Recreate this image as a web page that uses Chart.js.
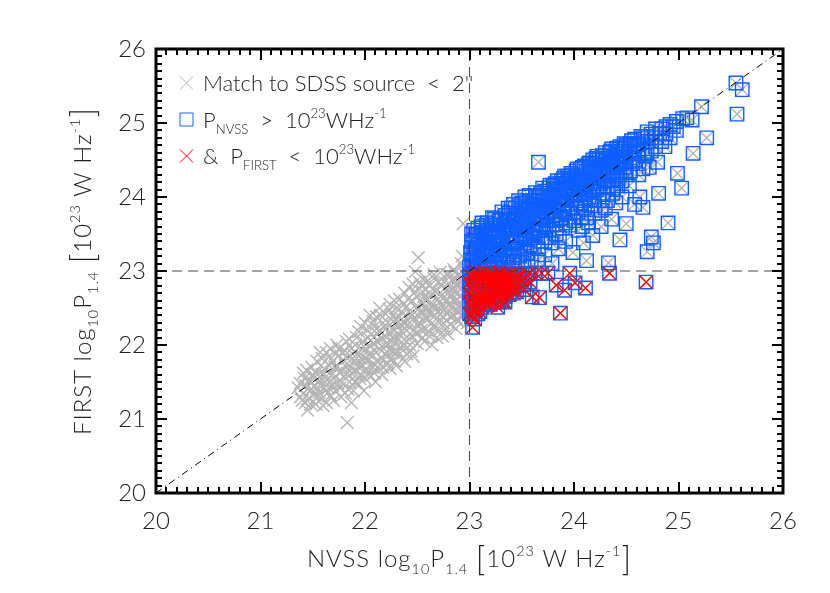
<!DOCTYPE html>
<html>
<head>
<meta charset="utf-8">
<script src="https://cdn.jsdelivr.net/npm/chart.js@4.4.1/dist/chart.umd.min.js"></script>
<style>
  html, body { margin: 0; padding: 0; background: #fff; }
</style>
</head>
<body>
<canvas id="chart" width="830" height="593"></canvas>
<script>
// axis ticks (log10 P in W/Hz)
const xTicks = [20, 21, 22, 23, 24, 25, 26];
const yTicks = [20, 21, 22, 23, 24, 25, 26];
const cut = 23;

// matched sources with NVSS power below the cut (grey only)
const lowPts = [
  [21.36,21.42],[21.40,21.25],[21.42,21.55],[21.45,21.12],[21.47,21.38],[21.50,21.60],[21.48,21.20],[21.52,21.45],[21.55,21.30],[21.44,21.66],
  [21.58,21.72],[21.60,21.18],[21.62,21.50],[21.64,21.35],[21.66,21.85],[21.68,21.60],[21.70,21.25],[21.57,21.90],[21.65,21.42],[21.71,21.70],
  [21.74,21.48],[21.75,21.95],[21.77,21.30],[21.79,21.80],[21.80,21.58],[21.82,22.05],[21.84,21.40],[21.86,21.70],[21.88,21.88],[21.90,21.50],
  [21.83,20.95],[21.78,21.65],[21.87,21.22],
  [21.92,22.10],[21.93,21.75],[21.95,21.55],[21.97,21.95],[21.99,21.38],[22.00,21.82],[22.02,22.20],[22.03,21.62],[22.05,21.98],[22.07,21.70],
  [22.08,22.32],[22.10,21.50],[21.96,22.25],[22.04,21.88],
  [22.12,22.05],[22.13,21.78],[22.15,22.40],[22.16,21.60],[22.18,21.95],[22.20,22.22],[22.21,21.85],[22.23,22.48],[22.24,21.68],[22.26,22.10],
  [22.27,21.90],[22.29,22.35],[22.30,21.72],[22.14,22.20],[22.22,22.02],[22.28,22.60],
  [22.32,22.15],[22.33,21.88],[22.35,22.45],[22.36,22.00],[22.38,21.78],[22.39,22.30],[22.41,22.62],[22.42,22.08],[22.44,21.92],[22.45,22.40],
  [22.47,22.20],[22.48,22.72],[22.50,22.02],[22.34,22.28],[22.40,22.52],[22.46,21.85],[22.48,22.99],[22.51,23.18],
  [22.52,22.50],[22.53,22.28],[22.55,22.10],[22.56,22.65],[22.58,22.38],[22.59,22.85],[22.61,22.18],[22.62,22.55],[22.64,22.00],[22.65,22.75],
  [22.67,22.40],[22.68,22.25],[22.70,22.62],[22.54,22.80],[22.60,22.45],[22.66,22.90],[22.69,22.10],
  [22.72,22.48],[22.73,22.82],[22.75,22.30],[22.76,22.65],[22.78,22.95],[22.79,22.15],[22.81,22.55],[22.82,22.38],[22.84,22.78],[22.85,23.02],
  [22.87,22.22],[22.88,22.62],[22.90,22.45],[22.74,22.12],[22.80,22.70],[22.86,22.90],[22.89,22.32],
  [22.91,22.85],[22.92,23.10],[22.93,22.55],[22.94,22.40],[22.95,22.72],[22.96,22.95],[22.97,22.60],[22.98,22.30],[22.99,22.80],[22.94,23.64],
  [22.93,23.20],[22.97,23.05],
  [21.38,21.48],[21.38,21.30],[21.41,21.35],[21.41,21.62],[21.43,21.45],[21.43,21.22],[21.46,21.52],[21.46,21.28],[21.49,21.70],[21.49,21.40],
  [21.51,21.33],[21.51,21.55],[21.53,21.62],[21.53,21.20],[21.54,21.42],[21.54,21.78],[21.56,21.52],[21.56,21.36],[21.59,21.60],[21.59,21.28],
  [21.59,21.82],[21.61,21.42],[21.61,21.68],[21.63,21.58],[21.63,21.22],[21.63,21.90],[21.66,21.50],[21.66,21.72],[21.67,21.32],[21.67,21.95],
  [21.69,21.45],[21.69,21.78],[21.72,21.58],[21.72,21.38],[21.72,21.88],[21.73,21.70],[21.73,22.00],[21.76,21.62],[21.76,21.42],[21.78,21.90],
  [21.78,21.50],[21.81,21.72],[21.81,21.35],[21.81,21.92],[21.83,21.62],[21.83,21.82],[21.85,21.50],[21.85,22.08],[21.87,21.95],[21.87,21.62],
  [21.89,21.78],[21.89,21.38],[21.91,21.65],[21.91,22.00],[21.93,21.88],[21.93,21.48],[21.94,22.18],[21.94,21.70],[21.96,21.82],[21.96,21.60],
  [21.98,22.05],[21.98,21.72],[22.00,21.55],[22.00,22.30],[22.01,21.95],[22.01,21.68],[22.03,22.10],[22.03,21.80],[22.05,21.58],[22.05,22.40],
  [22.06,21.88],[22.06,22.15],[22.08,21.75],[22.08,22.02],[22.09,21.62],[22.09,22.25],[22.11,21.90],[22.11,22.38],[22.12,21.70],[22.12,22.15],
  [22.14,21.95],[22.14,22.50],[22.16,22.08],[22.16,21.82],[22.17,22.30],[22.17,21.70],[22.19,22.12],[22.19,21.88],[22.20,22.42],[22.20,21.98],
  [22.22,21.75],[22.22,22.30],[22.24,22.15],[22.24,22.55],[22.25,21.95],[22.25,21.82],[22.27,22.40],[22.27,22.20],[22.28,22.02],[22.28,21.78],
  [22.30,22.50],[22.30,22.28],[22.31,21.92],[22.31,22.10],[22.33,22.38],[22.33,22.62],[22.35,22.18],[22.35,21.95],[22.37,22.55],[22.37,22.30],
  [22.38,22.08],[22.38,22.70],[22.40,22.20],[22.40,21.88],[22.42,22.45],[22.42,22.78],[22.43,22.30],[22.43,22.00],[22.45,22.60],[22.45,22.12],
  [22.46,22.35],[22.46,22.82],[22.49,22.50],[22.49,22.15],[22.50,22.28],[22.50,22.65],[22.52,22.38],[22.52,22.85],[22.54,22.20],[22.54,22.58],
  [22.55,22.72],[22.55,22.45],[22.57,22.05],[22.57,22.52],[22.58,22.90],[22.58,22.22],[22.60,22.62],[22.60,22.35],[22.62,22.80],[22.62,22.12],
  [22.63,22.42],[22.63,22.68],[22.65,22.25],[22.65,22.55],[22.66,22.50],[22.66,22.95],[22.68,22.72],[22.68,22.35],[22.70,22.45],[22.70,22.85],
  [22.71,22.20],[22.71,22.58],[22.72,22.70],[22.72,22.98],[22.74,22.55],[22.74,22.38],[22.76,22.85],[22.76,22.48],[22.77,22.22],[22.77,22.60],
  [22.79,22.75],[22.79,22.42],[22.80,22.95],[22.80,22.55],[22.82,22.65],[22.82,22.28],[22.83,22.88],[22.83,22.50],[22.85,22.40],[22.85,22.72],
  [22.86,22.58],[22.86,22.98],[22.88,22.80],[22.88,22.35],[22.89,22.52],[22.89,22.70],[22.91,22.65],[22.91,22.95],[22.92,22.40],[22.92,22.78],
  [22.94,22.62],[22.94,22.88],[22.95,22.50],[22.95,23.02],[22.97,22.75],[22.97,22.45],[22.98,22.92],[22.98,22.62],[22.99,22.52],[22.99,23.08]
];

// P_NVSS > 1e23 and P_FIRST > 1e23 (blue boxes)
const highPts = [
  [23.00,23.05],[23.01,23.25],[23.02,23.40],[23.03,23.12],[23.04,23.55],[23.05,23.30],[23.06,23.02],[23.07,23.18],[23.08,23.45],[23.09,23.08],
  [23.10,23.35],[23.11,23.60],[23.12,23.22],[23.13,23.04],[23.14,23.50],[23.15,23.15],[23.16,23.38],[23.17,23.65],[23.18,23.28],[23.19,23.06],
  [23.20,23.48],[23.21,23.20],[23.22,23.72],[23.23,23.10],[23.24,23.40],[23.25,23.58],[23.26,23.25],[23.27,23.03],[23.28,23.68],[23.29,23.35],
  [23.30,23.15],
  [23.31,23.80],[23.32,23.52],[23.33,23.28],[23.34,23.05],[23.35,23.62],[23.36,23.40],[23.37,23.85],[23.38,23.18],[23.39,23.70],[23.40,23.48],
  [23.41,23.08],[23.42,23.90],[23.43,23.32],[23.44,23.58],[23.45,23.78],[23.46,23.22],[23.47,23.95],[23.48,23.45],[23.49,23.65],[23.50,23.12],
  [23.51,23.85],[23.52,23.38],[23.53,24.00],[23.54,23.55],[23.55,23.25],[23.56,23.75],[23.57,24.02],[23.58,23.48],[23.59,23.05],[23.60,23.90],
  [23.66,24.47],
  [23.61,23.65],[23.62,23.32],[23.63,24.06],[23.64,23.80],[23.65,23.15],[23.66,23.55],[23.67,24.00],[23.68,23.70],[23.69,23.40],[23.70,24.12],
  [23.71,23.88],[23.72,23.22],[23.73,23.60],[23.74,24.05],[23.75,23.78],[23.76,23.45],[23.77,24.16],[23.78,23.95],[23.79,23.10],[23.80,23.68],
  [23.81,24.10],[23.82,23.85],[23.83,23.50],[23.84,24.22],[23.85,23.30],[23.86,24.00],[23.87,23.72],[23.88,24.18],[23.89,23.58],[23.90,23.92],
  [23.91,24.28],[23.92,23.40],[23.93,24.08],[23.94,23.78],[23.95,24.22],[23.96,23.62],[23.97,24.32],[23.98,23.95],[23.99,23.25],[24.00,24.15],
  [24.02,23.85],[24.03,24.38],[24.04,23.55],[24.05,24.05],[24.07,23.72],[24.08,24.28],[24.09,23.38],[24.10,24.42],[24.11,23.98],[24.12,23.14],
  [24.13,24.20],[24.14,23.65],[24.15,24.46],[24.16,23.88],[24.17,24.35],[24.18,23.48],[24.19,24.10],[24.20,23.78],
  [24.21,24.52],[24.22,24.25],[24.24,23.95],[24.25,24.42],[24.26,23.60],[24.27,24.56],[24.28,24.15],[24.30,23.85],[24.31,24.50],[24.33,23.11],
  [24.33,24.30],[24.35,24.62],[24.36,23.70],[24.37,24.05],[24.38,24.45],[24.40,23.92],[24.41,24.66],[24.42,24.25],[24.44,23.42],[24.45,24.58],
  [24.46,24.00],[24.48,24.72],[24.49,24.35],[24.50,23.64],
  [24.52,24.62],[24.53,24.15],[24.55,24.76],[24.56,24.45],[24.58,23.90],[24.60,24.70],[24.62,24.30],[24.63,24.00],[24.64,24.82],[24.66,23.86],
  [24.68,24.55],[24.70,24.88],[24.70,23.26],[24.72,24.40],[24.74,23.46],[24.74,24.75],[24.76,23.38],[24.78,24.92],[24.81,24.05],[24.80,24.47],
  [24.82,24.86],[24.87,24.68],[24.90,23.65],[24.95,24.95],[24.99,24.32],[25.03,24.12],[25.08,25.07],[25.13,25.04],[25.14,24.59],[25.22,25.22],
  [25.27,24.80],[25.55,25.54],[25.61,25.45],[25.56,25.12],
  [23.02,23.15],[23.02,23.32],[23.02,23.50],[23.04,23.08],[23.04,23.22],[23.04,23.42],[23.06,23.28],[23.06,23.48],[23.06,23.12],[23.08,23.02],
  [23.08,23.35],[23.08,23.58],[23.10,23.20],[23.10,23.42],[23.10,23.10],[23.12,23.30],[23.12,23.52],[23.12,23.65],[23.14,23.10],[23.14,23.28],
  [23.14,23.40],[23.16,23.50],[23.16,23.20],[23.16,23.62],[23.18,23.12],[23.18,23.40],[23.18,23.55],[23.20,23.30],[23.20,23.62],[23.20,23.05],
  [23.22,23.45],[23.22,23.28],[23.22,23.58],[23.24,23.15],[23.24,23.52],[23.24,23.70],[23.26,23.38],[23.26,23.62],[23.26,23.10],[23.28,23.22],
  [23.28,23.48],[23.28,23.58],[23.30,23.40],[23.30,23.70],[23.30,23.28],[23.32,23.12],[23.32,23.62],[23.32,23.42],[23.34,23.55],[23.34,23.75],
  [23.34,23.30],[23.36,23.20],[23.36,23.50],[23.36,23.68],[23.38,23.42],[23.38,23.62],[23.38,23.78],[23.40,23.30],[23.40,23.58],[23.40,23.85],
  [23.42,23.50],[23.42,23.70],[23.42,23.18],[23.44,23.40],[23.44,23.68],[23.44,23.85],[23.46,23.58],[23.46,23.75],[23.46,23.30],[23.48,23.62],
  [23.48,23.88],[23.48,23.20],[23.50,23.50],[23.50,23.72],[23.50,23.92],[23.52,23.60],[23.52,23.82],[23.52,23.28],[23.54,23.70],[23.54,23.92],
  [23.54,23.42],[23.56,23.62],[23.56,23.85],[23.56,23.15],[23.58,23.72],[23.58,23.95],[23.58,23.35],[23.60,23.58],[23.60,23.80],[23.60,23.45],
  [23.62,23.75],[23.62,23.95],[23.62,23.52],[23.64,23.62],[23.64,23.88],[23.64,24.02],[23.66,23.72],[23.66,23.95],[23.66,23.30],[23.68,23.85],
  [23.68,24.05],[23.68,23.55],[23.70,23.75],[23.70,23.95],[23.70,23.62],[23.72,23.88],[23.72,24.08],[23.72,23.45],[23.74,23.80],[23.74,23.95],
  [23.74,23.68],[23.76,23.90],[23.76,24.12],[23.76,23.55],[23.78,23.82],[23.78,24.02],[23.78,23.38],[23.80,23.92],[23.80,24.15],[23.80,23.75],
  [23.82,24.00],[23.82,23.68],[23.82,24.18],[23.84,23.90],[23.84,24.08],[23.84,23.62],[23.86,24.12],[23.86,23.80],[23.86,23.45],[23.88,23.98],
  [23.88,24.22],[23.88,23.70],[23.90,24.10],[23.90,23.82],[23.90,24.25],[23.92,24.00],[23.92,24.18],[23.92,23.65],[23.94,24.12],[23.94,23.90],
  [23.94,24.28],[23.96,24.05],[23.96,24.25],[23.96,23.78],[23.98,24.15],[23.98,24.30],[23.98,23.85],[24.00,24.02],[24.00,24.25],[24.00,23.68],
  [24.02,24.18],[24.02,24.35],[24.02,23.95],[24.04,24.10],[24.04,24.28],[24.04,23.80],[24.06,24.22],[24.06,24.38],[24.06,23.92],[24.08,24.12],
  [24.08,23.60],[24.08,24.40],[24.10,24.25],[24.10,24.05],[24.10,23.85],[24.12,24.35],[24.12,24.15],[24.12,23.72],[24.14,24.28],[24.14,24.45],
  [24.14,24.00],[24.16,24.20],[24.16,24.40],[24.16,23.95],[24.18,24.32],[24.18,24.50],[24.18,24.08],[24.20,24.25],[24.20,24.45],[24.20,23.88],
  [24.22,24.38],[24.22,24.55],[24.22,24.10],[24.24,24.30],[24.24,24.50],[24.24,24.18],[24.26,24.42],[24.26,24.20],[24.26,23.82],[24.28,24.35],
  [24.28,24.55],[24.28,24.05],[24.30,24.48],[24.30,24.22],[24.30,24.60],[24.32,24.40],[24.32,24.15],[24.32,23.95],[24.34,24.52],[24.34,24.30],
  [24.34,24.60],[24.36,24.45],[24.36,24.22],[24.36,24.65],[24.38,24.55],[24.38,24.35],[24.38,24.12],[24.40,24.48],[24.40,24.62],[24.40,24.28],
  [24.42,24.58],[24.42,24.40],[24.42,24.15],[24.44,24.50],[24.44,24.68],[24.44,24.30],[24.46,24.62],[24.46,24.45],[24.46,24.22],[24.48,24.55],
  [24.48,24.40],[24.48,24.65],[24.50,24.70],[24.50,24.48],[24.50,24.30],[24.54,24.60],[24.54,24.72],[24.54,24.35],[24.58,24.68],[24.58,24.50],
  [24.58,24.78],[24.62,24.72],[24.62,24.58],[24.62,24.45],[24.66,24.80],[24.66,24.65],[24.66,24.38],[24.70,24.75],[24.70,24.60],[24.70,24.82],
  [24.74,24.85],[24.74,24.62],[24.78,24.80],[24.78,24.68],[24.84,24.92],[24.84,24.75],[24.88,24.95],[24.88,24.85],[24.92,24.98],[24.92,24.80],
  [24.98,25.02],[24.98,24.90],[25.04,25.06]
];

// P_NVSS > 1e23 but P_FIRST < 1e23 (red crosses, also boxed)
const lowFirstPts = [
  [23.00,22.95],[23.01,22.80],[23.02,22.65],[23.03,22.50],[23.04,22.88],[23.05,22.72],[23.06,22.58],[23.07,22.98],[23.08,22.83],[23.09,22.68],
  [23.10,22.45],[23.11,22.92],[23.12,22.76],[23.13,22.62],[23.14,22.97],[23.15,22.85],[23.16,22.70],[23.17,22.55],[23.18,22.90],[23.19,22.78],
  [23.20,22.64],[23.21,22.96],[23.22,22.82],[23.23,22.72],[23.24,22.58],[23.25,22.93],[23.26,22.80],[23.27,22.67],[23.28,22.98],[23.29,22.86],
  [23.30,22.74],[23.31,22.60],[23.32,22.92],[23.33,22.82],[23.35,22.70],[23.36,22.97],[23.37,22.88],[23.39,22.78],[23.40,22.95],[23.42,22.85],
  [23.42,22.70],[23.44,22.92],[23.46,22.80],[23.48,22.96],[23.50,22.88],[23.52,22.75],[23.55,22.95],[23.58,22.85],
  [23.03,22.24],[23.03,22.40],[23.05,22.35],[23.08,22.42],[23.12,22.51],[23.20,22.61],[23.27,22.51],[23.34,22.58],
  [23.60,22.65],[23.67,22.64],[23.63,22.97],[23.69,22.97],[23.75,22.97],[23.83,22.81],[23.87,22.43],[23.91,22.74],
  [23.96,22.97],[24.01,22.84],[24.11,22.77],[24.34,22.97],[24.69,22.85],
  [23.00,22.85],[23.00,22.70],[23.00,22.58],[23.00,22.42],[23.02,22.92],[23.02,22.75],[23.02,22.55],[23.02,22.38],[23.04,22.98],[23.04,22.65],
  [23.04,22.45],[23.06,22.90],[23.06,22.78],[23.06,22.48],[23.08,22.95],[23.08,22.62],[23.08,22.52],[23.10,22.88],[23.10,22.72],[23.10,22.58],
  [23.12,22.98],[23.12,22.65],[23.12,22.85],[23.14,22.90],[23.14,22.74],[23.14,22.56],[23.16,22.95],[23.16,22.80],[23.16,22.62],[23.18,22.85],
  [23.18,22.68],[23.18,22.98],[23.20,22.92],[23.20,22.75],[23.20,22.55],[23.22,22.97],[23.22,22.66],[23.22,22.88],[23.24,22.85],[23.24,22.75],
  [23.24,22.95],[23.26,22.92],[23.26,22.62],[23.26,22.72],[23.28,22.80],[23.28,22.90],[23.28,22.58],[23.30,22.96],[23.30,22.85],[23.30,22.66],
  [23.32,22.78],[23.32,22.70],[23.34,22.95],[23.34,22.88],[23.34,22.65],[23.36,22.82],[23.36,22.74],[23.38,22.92],[23.38,22.68],[23.40,22.85],
  [23.40,22.76],[23.43,22.97],[23.43,22.78],[23.45,22.88],[23.45,22.72],[23.47,22.92],[23.53,22.90],[23.53,22.82],[23.57,22.97]
];

const FONT = 'Lato, "DejaVu Sans", sans-serif';
const TXT = '#222';

const toXY = p => ({ x: p[0], y: p[1] });
const greyData = lowPts.concat(highPts, lowFirstPts).map(toXY);
const blueData = highPts.concat(lowFirstPts).map(toXY);
const redData = lowFirstPts.map(toXY);

function fontFor(kind, size) {
  let s = size;
  if (kind === 'sub' || kind === 'sup') s = size * 0.6;
  if (kind === 'big') s = size * 1.35;
  return `300 ${s}px ${FONT}`;
}
function richWidth(ctx, parts, size) {
  let w = 0;
  for (const [t, k] of parts) { ctx.font = fontFor(k, size); w += ctx.measureText(t).width; }
  return w;
}
function drawRich(ctx, parts, x, y, size, align) {
  let cx = align === 'center' ? x - richWidth(ctx, parts, size) / 2 : x;
  ctx.textAlign = 'left';
  ctx.textBaseline = 'alphabetic';
  for (const [t, k] of parts) {
    ctx.font = fontFor(k, size);
    let dy = 0;
    if (k === 'sub') dy = size * 0.28;
    if (k === 'sup') dy = -size * 0.45;
    if (k === 'big') dy = size * 0.18;
    ctx.fillText(t, cx, y + dy);
    cx += ctx.measureText(t).width;
  }
}

const xTitle = [['NVSS log','n'],['10','sub'],['P','n'],['1.4','sub'],[' ','n'],['[','big'],['10','n'],['23','sup'],[' W Hz','n'],['-1','sup'],[']','big']];
const yTitle = [['FIRST log','n'],['10','sub'],['P','n'],['1.4','sub'],[' ','n'],['[','big'],['10','n'],['23','sup'],[' W Hz','n'],['-1','sup'],[']','big']];
const legendRows = [
  { sym: 'cross', color: '#b4b4b4', parts: [['Match to SDSS source  <  2\'\'','n']] },
  { sym: 'box', color: 'rgb(20,100,255)', parts: [['P','n'],['NVSS','sub'],['  >  10','n'],['23','sup'],['WHz','n'],['-1','sup']] },
  { sym: 'cross', color: '#ff0000', parts: [['&  P','n'],['FIRST','sub'],['  <  10','n'],['23','sup'],['WHz','n'],['-1','sup']] }
];

// frame, inward ticks on all four sides, titles and legend
const decor = {
  id: 'decor',
  afterDraw(chart) {
    const { ctx, chartArea: a, scales: { x, y } } = chart;
    ctx.save();
    ctx.strokeStyle = '#000';
    ctx.lineWidth = 2;
    ctx.beginPath();
    for (let i = 0; i <= 60; i++) {
      const v = 20 + i / 10;
      const len = i % 10 === 0 ? 11 : 6;
      const px = Math.round(x.getPixelForValue(v));
      const py = Math.round(y.getPixelForValue(v));
      ctx.moveTo(px, a.bottom); ctx.lineTo(px, a.bottom - len);
      ctx.moveTo(px, a.top); ctx.lineTo(px, a.top + len);
      ctx.moveTo(a.left, py); ctx.lineTo(a.left + len, py);
      ctx.moveTo(a.right, py); ctx.lineTo(a.right - len, py);
    }
    ctx.stroke();
    ctx.lineWidth = 3;
    ctx.strokeRect(a.left, a.top, a.right - a.left, a.bottom - a.top);

    ctx.fillStyle = TXT;
    ctx.letterSpacing = '1px';
    drawRich(ctx, xTitle, (a.left + a.right) / 2, 567, 24, 'center');
    ctx.save();
    ctx.translate(91, (a.top + a.bottom) / 2);
    ctx.rotate(-Math.PI / 2);
    drawRich(ctx, yTitle, 0, 0, 24, 'center');
    ctx.restore();
    ctx.letterSpacing = '0px';

    legendRows.forEach((row, i) => {
      const cy = 83 + i * 36.5;
      const sx = 186.5;
      ctx.strokeStyle = row.color;
      ctx.lineWidth = 1;
      ctx.beginPath();
      if (row.sym === 'cross') {
        ctx.moveTo(sx - 6.5, cy - 6.5); ctx.lineTo(sx + 6.5, cy + 6.5);
        ctx.moveTo(sx - 6.5, cy + 6.5); ctx.lineTo(sx + 6.5, cy - 6.5);
      } else {
        ctx.rect(sx - 6.5, cy - 6.5, 13, 13);
      }
      ctx.stroke();
      ctx.fillStyle = TXT;
      drawRich(ctx, row.parts, 203, cy + 8, 22, 'left');
    });
    ctx.restore();
  }
};

const lineSet = (data, color, dash) => ({
  data, showLine: true, pointRadius: 0, borderColor: color, borderWidth: 1, borderDash: dash, order: 0
});

new Chart(document.getElementById('chart'), {
  type: 'scatter',
  data: {
    datasets: [
      lineSet([{ x: 20, y: 20 }, { x: 26, y: 26 }], '#000', [7, 4, 1, 4]),
      lineSet([{ x: cut, y: 20 }, { x: cut, y: 26 }], '#444', [10, 6]),
      lineSet([{ x: 20, y: cut }, { x: 26, y: cut }], '#444', [10, 6]),
      { data: redData, pointStyle: 'crossRot', pointRadius: 9, borderColor: '#ff0000', borderWidth: 1.3, order: 1 },
      { data: blueData, pointStyle: 'rect', pointRadius: 9.5, borderColor: 'rgb(15,95,255)', backgroundColor: 'rgba(0,0,0,0)', borderWidth: 1.4, order: 2 },
      { data: greyData, pointStyle: 'crossRot', pointRadius: 9, borderColor: '#b4b4b4', borderWidth: 1.4, order: 3 }
    ]
  },
  options: {
    responsive: false,
    animation: false,
    events: [],
    layout: { padding: { top: 49, right: 47, left: 0, bottom: 0 } },
    plugins: { legend: { display: false }, tooltip: { enabled: false } },
    scales: {
      x: {
        type: 'linear', min: 20, max: 26,
        afterFit: s => { s.height = 100; },
        afterBuildTicks: s => { s.ticks = xTicks.map(v => ({ value: v })); },
        grid: { display: false, drawTicks: false },
        border: { display: false },
        ticks: { padding: 14, color: TXT, font: { family: FONT, size: 24, weight: 300 } }
      },
      y: {
        type: 'linear', min: 20, max: 26,
        afterFit: s => { s.width = 156; },
        afterBuildTicks: s => { s.ticks = yTicks.map(v => ({ value: v })); },
        grid: { display: false, drawTicks: false },
        border: { display: false },
        ticks: { padding: 10, color: TXT, font: { family: FONT, size: 24, weight: 300 } }
      }
    }
  },
  plugins: [decor]
});
</script>
</body>
</html>
